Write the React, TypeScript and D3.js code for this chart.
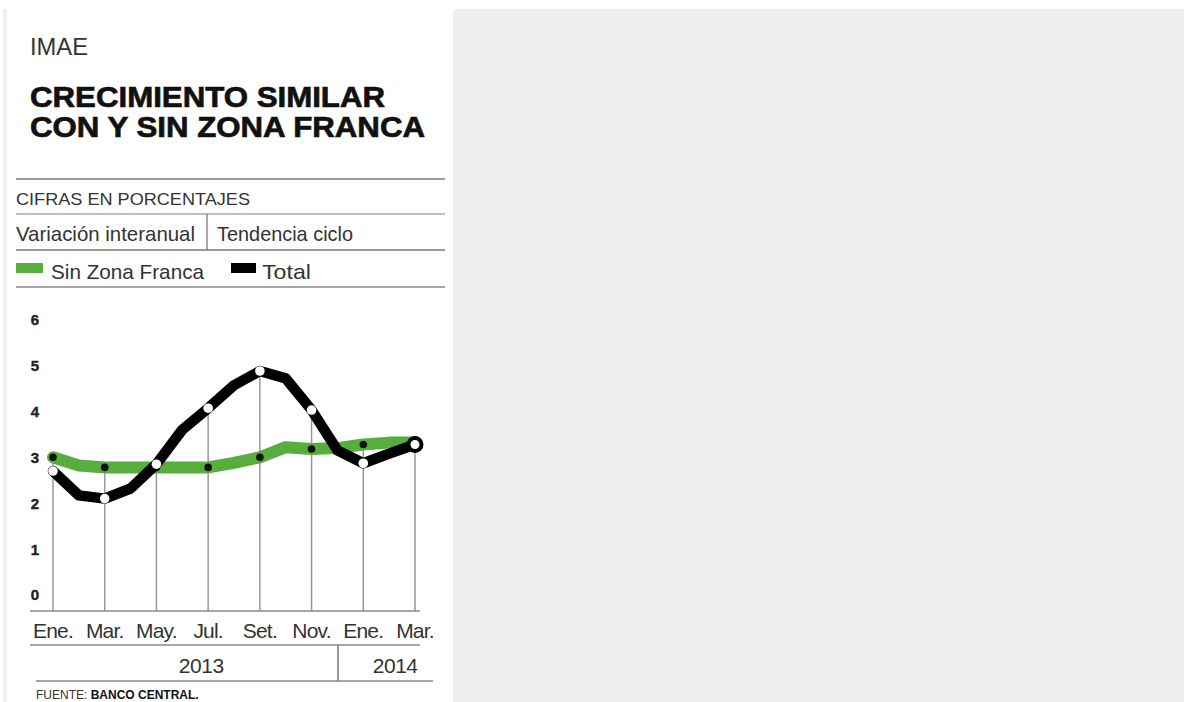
import React from "react";
import * as d3 from "d3";

const months = ["2013-01","2013-02","2013-03","2013-04","2013-05","2013-06","2013-07","2013-08","2013-09","2013-10","2013-11","2013-12","2014-01","2014-02","2014-03"];
const totalValues = [2.7, 2.17, 2.1, 2.32, 2.85, 3.6, 4.07, 4.57, 4.88, 4.72, 4.03, 3.15, 2.87, 3.08, 3.28];
const sinZonaFrancaValues = [3.0, 2.82, 2.78, 2.78, 2.78, 2.78, 2.78, 2.88, 3.0, 3.22, 3.18, 3.2, 3.28, 3.32, 3.32];
const tickMonths = ["2013-01","2013-03","2013-05","2013-07","2013-09","2013-11","2014-01","2014-03"];
const tickLabels = ["Ene.", "Mar.", "May.", "Jul.", "Set.", "Nov.", "Ene.", "Mar."];
const yTicks = [0, 1, 2, 3, 4, 5, 6];
const years = [
  { label: "2013", from: "2013-01", to: "2013-12" },
  { label: "2014", from: "2014-01", to: "2014-03" },
];

const GREEN = "#58ad3f";
const NARROW = "'Liberation Sans Narrow', 'Liberation Sans', Arial, sans-serif";
const SANS = "'Liberation Sans', Arial, Helvetica, sans-serif";

export default function App() {
  const x = d3.scalePoint<string>().domain(months).range([53, 415]);
  const y = d3.scaleLinear().domain([0, 6]).range([595, 319.6]);

  const lineGen = d3
    .line<number>()
    .x((_, i) => x(months[i]) as number)
    .y((d) => y(d))
    .curve(d3.curveLinear);

  const tickIdx = tickMonths.map((m) => months.indexOf(m));
  const lastIdx = months.length - 1;

  return (
    <svg
      width={1184}
      height={702}
      style={{ position: "absolute", left: 0, top: 0, display: "block" }}
    >
      <rect x={0} y={0} width={1184} height={702} fill="#ffffff" />
      <rect x={3} y={9} width={1181} height={693} fill="#efefef" />
      <rect x={7} y={0} width={446} height={702} fill="#ffffff" />

      {/* header */}
      <text x={30} y={55} fontFamily={NARROW} fontSize={23} fill="#333" textLength={58} lengthAdjust="spacingAndGlyphs">IMAE</text>
      <text x={30} y={107} fontFamily={SANS} fontWeight="bold" fontSize={30} fill="#111" stroke="#111" strokeWidth={0.7} textLength={355} lengthAdjust="spacingAndGlyphs">CRECIMIENTO SIMILAR</text>
      <text x={30} y={137} fontFamily={SANS} fontWeight="bold" fontSize={30} fill="#111" stroke="#111" strokeWidth={0.7} textLength={395} lengthAdjust="spacingAndGlyphs">CON Y SIN ZONA FRANCA</text>

      <line x1={16} x2={445} y1={179} y2={179} stroke="#999" strokeWidth={2} />
      <text x={16} y={205} fontFamily={NARROW} fontSize={17} fill="#333" textLength={234} lengthAdjust="spacingAndGlyphs">CIFRAS EN PORCENTAJES</text>
      <line x1={16} x2={445} y1={214} y2={214} stroke="#aaa" strokeWidth={1.5} />
      <text x={16} y={241} fontFamily={NARROW} fontSize={21} fill="#333" textLength={179} lengthAdjust="spacingAndGlyphs">Variación interanual</text>
      <line x1={207} x2={207} y1={214} y2={250} stroke="#888" strokeWidth={1.5} />
      <text x={217} y={241} fontFamily={NARROW} fontSize={21} fill="#333" textLength={136} lengthAdjust="spacingAndGlyphs">Tendencia ciclo</text>
      <line x1={16} x2={445} y1={250} y2={250} stroke="#777" strokeWidth={1.5} />

      <rect x={16} y={263} width={27} height={10} fill={GREEN} />
      <text x={51} y={279} fontFamily={NARROW} fontSize={21} fill="#333" textLength={153} lengthAdjust="spacingAndGlyphs">Sin Zona Franca</text>
      <rect x={231} y={263} width={25} height={10} fill="#000" />
      <text x={262} y={279} fontFamily={NARROW} fontSize={21} fill="#333" textLength={49} lengthAdjust="spacingAndGlyphs">Total</text>
      <line x1={16} x2={445} y1={287} y2={287} stroke="#888" strokeWidth={1.5} />

      {/* y labels */}
      {yTicks.map((t) => (
        <text key={t} x={35} y={y(t)} dy="0.36em" textAnchor="middle" fontFamily={SANS} fontWeight="bold" fontSize={15} fill="#222" stroke="#222" strokeWidth={0.4}>
          {t}
        </text>
      ))}

      {/* vertical guides */}
      {tickIdx.map((i) => (
        <line
          key={"v" + i}
          x1={x(months[i])}
          x2={x(months[i])}
          y1={Math.min(y(totalValues[i]), y(sinZonaFrancaValues[i]))}
          y2={611}
          stroke="#999"
          strokeWidth={1.5}
        />
      ))}
      <line x1={30} x2={420} y1={611} y2={611} stroke="#888" strokeWidth={1.5} />

      {/* series */}
      <path d={lineGen(sinZonaFrancaValues) || ""} fill="none" stroke={GREEN} strokeWidth={12} strokeLinejoin="round" strokeLinecap="round" />
      {tickIdx.map((i) => (
        <circle key={"g" + i} cx={x(months[i])} cy={y(sinZonaFrancaValues[i])} r={3.8} fill="#111" />
      ))}
      <path d={lineGen(totalValues) || ""} fill="none" stroke="#000" strokeWidth={10.5} strokeLinejoin="round" strokeLinecap="round" />
      {tickIdx.map((i) =>
        i === lastIdx ? (
          <circle key={"t" + i} cx={x(months[i])} cy={y(totalValues[i])} r={6.5} fill="#fff" stroke="#000" strokeWidth={4} />
        ) : (
          <circle key={"t" + i} cx={x(months[i])} cy={y(totalValues[i])} r={4.8} fill="#fff" />
        )
      )}

      {/* x labels */}
      {tickIdx.map((i, k) => (
        <text key={"xl" + k} x={x(months[i])} y={638} textAnchor="middle" fontFamily={NARROW} fontSize={21} letterSpacing={-0.8} fill="#333">
          {tickLabels[k]}
        </text>
      ))}
      <line x1={30} x2={420} y1={645} y2={645} stroke="#888" strokeWidth={1.5} />
      {years.map((yr) => {
        const a = x(yr.from) as number;
        const b = x(yr.to) as number;
        return (
          <text key={yr.label} x={(a + b) / 2 + 6} y={673} textAnchor="middle" fontFamily={NARROW} fontSize={21} letterSpacing={-0.5} fill="#333">
            {yr.label}
          </text>
        );
      })}
      <line x1={338} x2={338} y1={645} y2={681} stroke="#777" strokeWidth={1.5} />
      <line x1={36} x2={433} y1={681} y2={681} stroke="#888" strokeWidth={1.5} />

      <text x={36} y={699} fontFamily={SANS} fontSize={12} fill="#333">
        <tspan>FUENTE: </tspan>
        <tspan fontWeight="bold" fill="#111">BANCO CENTRAL.</tspan>
      </text>
    </svg>
  );
}
